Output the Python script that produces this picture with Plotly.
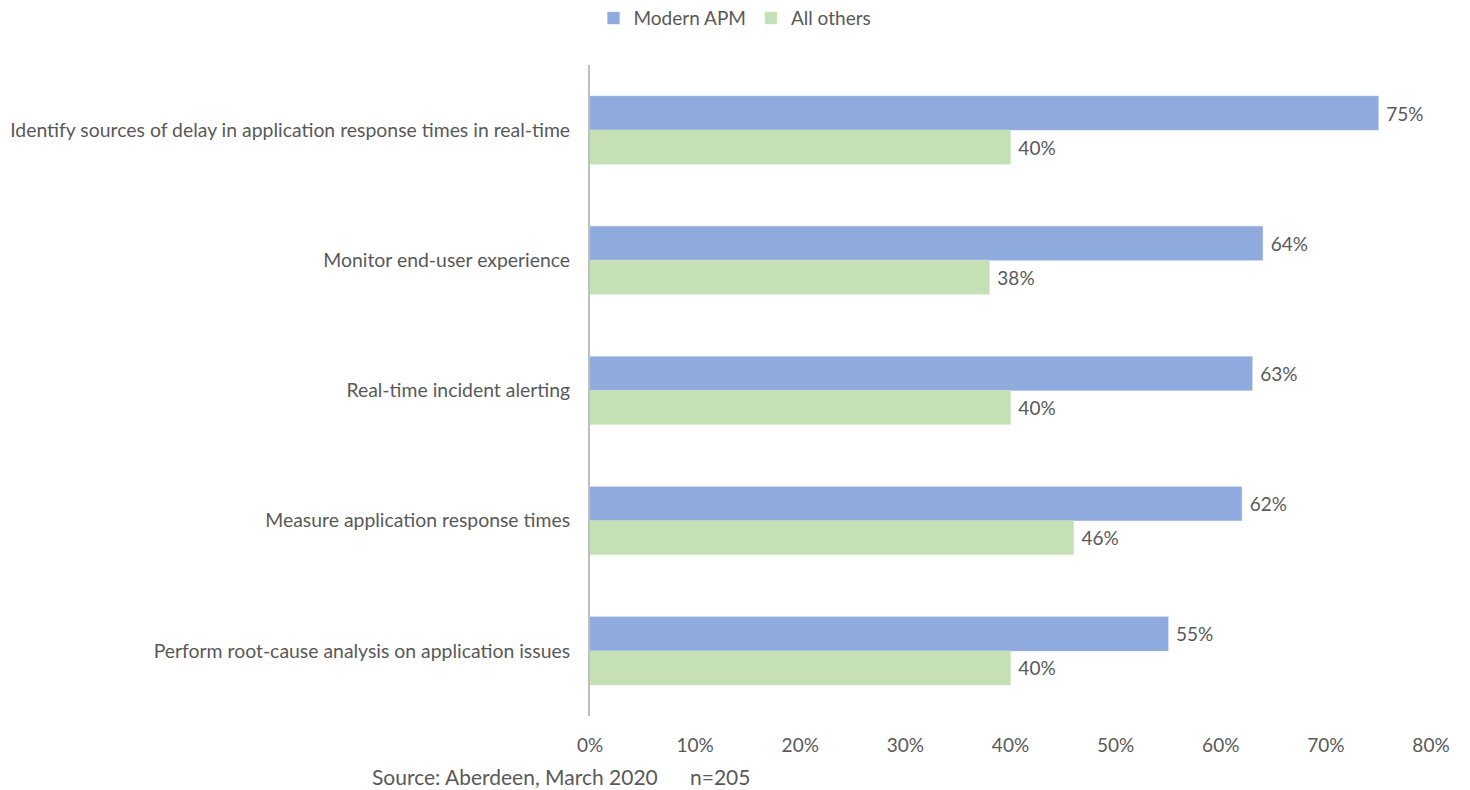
import plotly.graph_objects as go

categories = [
    "Identify sources of delay in application response times in real-time",
    "Monitor end-user experience",
    "Real-time incident alerting",
    "Measure application response times",
    "Perform root-cause analysis on application issues",
]
modern_apm = [75, 64, 63, 62, 55]
all_others = [40, 38, 40, 46, 40]
x_ticks = [0, 10, 20, 30, 40, 50, 60, 70, 80]

TEXT = "#595959"
FONT = "Lato, 'Open Sans', sans-serif"
SIZE = 19
CAT_SIZE = 19.4

fig = go.Figure()
fig.add_trace(go.Bar(
    y=categories, x=modern_apm, orientation="h", name="Modern APM",
    marker=dict(color="#8FAADC", line=dict(color="#A9BFE6", width=0.5)),
    text=[f"\u00a0{v}%" for v in modern_apm], textposition="outside",
    textfont=dict(size=SIZE, color=TEXT, family=FONT), cliponaxis=False,
))
fig.add_trace(go.Bar(
    y=categories, x=all_others, orientation="h", name="All others",
    marker=dict(color="#C5E0B4", line=dict(color="#D3E8C6", width=0.5)),
    text=[f"\u00a0{v}%" for v in all_others], textposition="outside",
    textfont=dict(size=SIZE, color=TEXT, family=FONT), cliponaxis=False,
))

fig.update_layout(
    width=1470, height=790,
    margin=dict(l=590, r=39, t=65, b=74, autoexpand=False),
    paper_bgcolor="white", plot_bgcolor="white",
    barmode="group", bargap=0.477, bargroupgap=0,
    font=dict(family=FONT, size=SIZE, color=TEXT),
    showlegend=True,
    legend=dict(orientation="h", xref="container", yref="container",
                x=0.5, xanchor="center", y=0.977, yanchor="middle",
                font=dict(size=SIZE, color=TEXT), itemwidth=30,
                traceorder="normal", tracegroupgap=0),
    xaxis=dict(range=[0, 80], tickvals=x_ticks, ticktext=[f"{v}%" for v in x_ticks],
               showgrid=False, zeroline=False, showline=False, ticks="",
               tickfont=dict(size=SIZE, color=TEXT), ticklabelstandoff=16),
    yaxis=dict(autorange="reversed", showgrid=False, zeroline=False,
               showline=True, linecolor="#BFBFBF", linewidth=2, ticks="",
               tickfont=dict(size=CAT_SIZE, color=TEXT), ticklabelstandoff=14),
    annotations=[dict(
        text="Source: Aberdeen, March 2020" + "\u00a0" * 6 + "n=205",
        xref="paper", yref="paper",
        x=-0.2616, y=-0.0937, xanchor="left", yanchor="middle", showarrow=False,
        font=dict(size=21, color=TEXT),
    )],
)

fig.write_html("out.html")
